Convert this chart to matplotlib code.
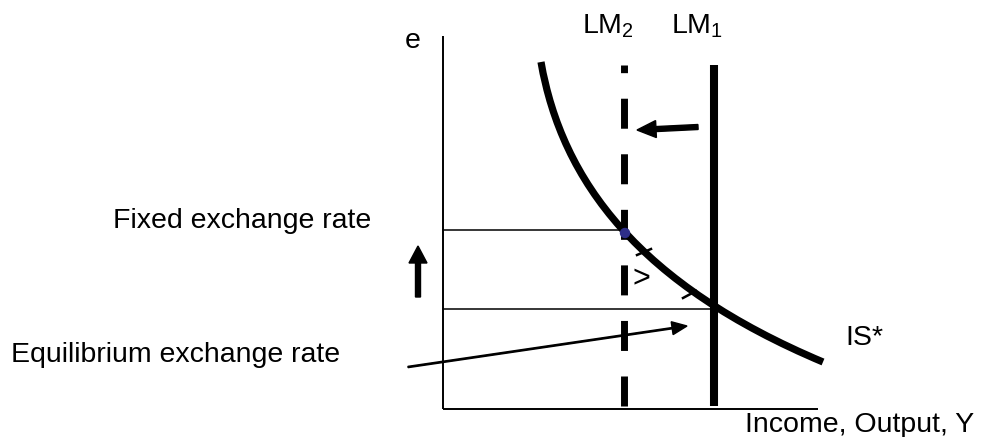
import matplotlib
matplotlib.use("Agg")
import matplotlib.pyplot as plt
from matplotlib.path import Path
from matplotlib.patches import PathPatch, Circle

plt.rcParams['font.family'] = ['Liberation Sans', 'DejaVu Sans']
plt.rcParams['mathtext.fontset'] = 'custom'
plt.rcParams['mathtext.rm'] = 'Liberation Sans'
plt.rcParams['lines.scale_dashes'] = False

# diagram laid out in pixel units (x right, y down)
axis_origin = (443, 409)
axis_top = 36
axis_right = 818

lm_labels = ['LM$_\\mathregular{2}$', 'LM$_\\mathregular{1}$']
lm_x = [624, 714]
lm_label_x = [608, 697]
lm_span = (406, 65)

# IS* curve: cubic bezier control points
is_curve = [(541, 62), (562, 182), (640, 285), (823, 362)]

fixed_rate = 230
equilibrium_rate = 309
fixed_end_x = 624

# movement arrows: (tail, tip)
shift_arrow = ((698, 127), (637, 130))
rise_arrow = ((418, 297), (418, 246))
pointer_arrow = ((408, 367), (687, 326))

# small barbs left on the IS* curve
barbs = [((637, 255), (651, 249)), ((683, 298), (696, 291))]

fs = 20.5

fig = plt.figure(figsize=(9.82, 4.37), dpi=100)
ax = fig.add_axes([0, 0, 1, 1])
ax.set_xlim(0, 982)
ax.set_ylim(437, 0)
ax.axis('off')

# axes of the diagram
ox, oy = axis_origin
ax.plot([ox, ox], [axis_top, oy], color='black', lw=1.4, solid_capstyle='butt')
ax.plot([ox, axis_right], [oy, oy], color='black', lw=1.4, solid_capstyle='butt')

# exchange rate levels
ax.plot([ox, fixed_end_x], [fixed_rate, fixed_rate], color='black', lw=1.1)
ax.plot([ox, lm_x[1]], [equilibrium_rate, equilibrium_rate], color='black', lw=1.1)

# LM curves
ax.plot([lm_x[0], lm_x[0]], lm_span, color='black', lw=5.0,
        linestyle=(0, (21.6, 18.4)), dash_capstyle='butt')
ax.plot([lm_x[1], lm_x[1]], lm_span, color='black', lw=5.8, solid_capstyle='butt')

# IS* curve
codes = [Path.MOVETO, Path.CURVE4, Path.CURVE4, Path.CURVE4]
ax.add_patch(PathPatch(Path(is_curve, codes), fill=False, lw=5.2,
                       edgecolor='black', capstyle='butt'))

ax.add_patch(Circle((fixed_end_x + 1, fixed_rate + 3), 4.5, color='#2e2e88', zorder=3))

for (x0, y0), (x1, y1) in barbs:
    ax.plot([x0, x1], [y0, y1], color='black', lw=1.8)
ax.text(641, 287, '>', fontsize=22, ha='center', va='baseline')

# arrows
(tx, ty), (hx, hy) = shift_arrow
ax.arrow(tx, ty, hx - tx, hy - ty, width=5, head_width=17, head_length=19,
         length_includes_head=True, color='black')
(tx, ty), (hx, hy) = rise_arrow
ax.arrow(tx, ty, hx - tx, hy - ty, width=5, head_width=18, head_length=17,
         length_includes_head=True, color='black')
(tx, ty), (hx, hy) = pointer_arrow
ax.arrow(tx, ty, hx - tx, hy - ty, width=1.3, head_width=13, head_length=15,
         length_includes_head=True, color='black')

# labels
ax.text(413, 48, 'e', fontsize=fs, ha='center', va='baseline')
for lab, x in zip(lm_labels, lm_label_x):
    ax.text(x, 33, lab, fontsize=fs, ha='center', va='baseline')
ax.text(113, 228, 'Fixed exchange rate', fontsize=fs, ha='left', va='baseline')
ax.text(11, 362, 'Equilibrium exchange rate', fontsize=fs, ha='left', va='baseline')
ax.text(845, 345, 'IS*', fontsize=fs, ha='left', va='baseline')
ax.text(745, 432, 'Income, Output, Y', fontsize=fs, ha='left', va='baseline')

fig.savefig('out.png', dpi=100)
